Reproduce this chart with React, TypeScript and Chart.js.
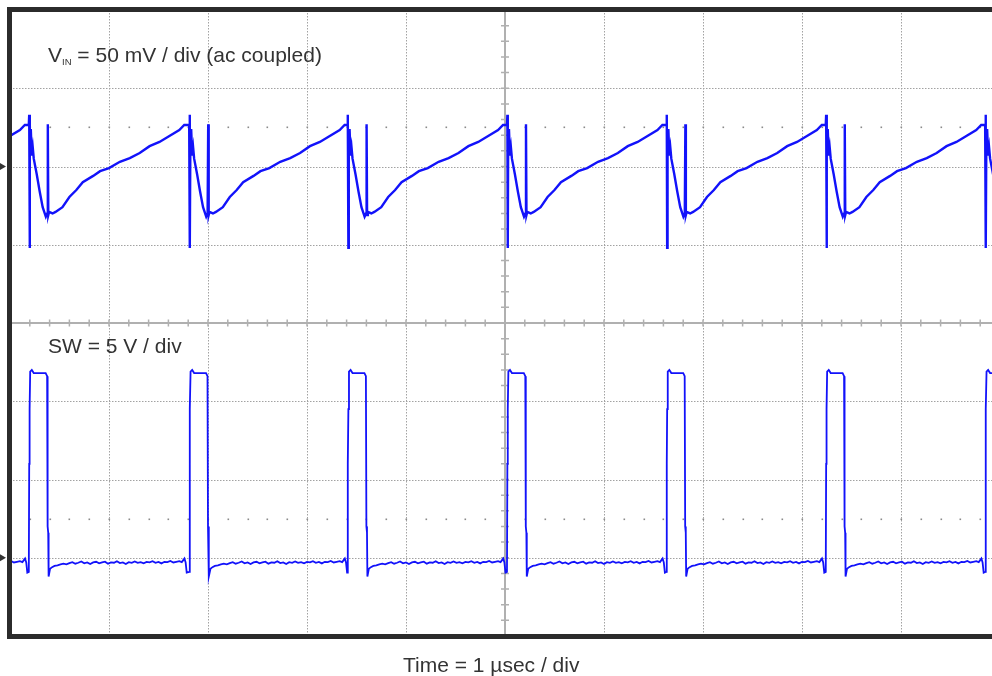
import React, { useEffect, useRef } from "react";
import { Chart, registerables } from "chart.js";

Chart.register(...registerables);

// ---- data (time in µs, VIN ripple in mV, SW in V) ----
const cycleStartsUs = [-1.42, 0.19, 1.81, 3.41, 5.02, 6.63, 8.24, 9.85];

const vinDtUs = [
  0.0, 0.004, 0.008, 0.012, 0.02, 0.03, 0.04, 0.05, 0.08, 0.11, 0.14, 0.172, 0.186,
  0.192, 0.197, 0.205, 0.24, 0.27, 0.34, 0.41, 0.48, 0.545, 0.65, 0.72, 0.81, 0.92,
  1.02, 1.12, 1.22, 1.32, 1.42, 1.52, 1.57, 1.595,
];
const vinMv = [
  26.5, 33, -52, 17, 24, 7, 12, 5, -5, -16, -26, -32, -30,
  27, -31, -29, -30, -29, -26, -19.5, -15, -10, -6, -3, -1, 3,
  5.4, 8.6, 13, 15.7, 19.5, 23.3, 26.5, 26.5,
];

const swDtUs = [
  0.0, 0.004, 0.008, 0.014, 0.03, 0.05, 0.1, 0.17, 0.185, 0.19, 0.196, 0.2,
  0.215, 0.235, 0.26, 0.29, 0.32, 0.35, 0.38, 0.41, 0.44, 0.47, 0.5, 0.53, 0.56,
  0.59, 0.62, 0.65, 0.68, 0.71, 0.74, 0.77, 0.8, 0.83, 0.86, 0.89, 0.92, 0.95,
  0.98, 1.01, 1.04, 1.07, 1.1, 1.13, 1.16, 1.19, 1.22, 1.25, 1.28, 1.31, 1.34,
  1.37, 1.4, 1.43, 1.46, 1.49, 1.52, 1.545, 1.56, 1.572, 1.584, 1.595,
];
const swV = [
  -0.9, 6.0, 9.5, 11.9, 12.0, 11.8, 11.8, 11.8, 11.6, 2.0, 1.6, -1.2,
  -0.7, -0.6, -0.52, -0.48, -0.42, -0.38, -0.42, -0.34, -0.28, -0.38, -0.32, -0.24, -0.36,
  -0.3, -0.4, -0.3, -0.26, -0.36, -0.3, -0.25, -0.38, -0.3, -0.32, -0.22, -0.34, -0.3,
  -0.4, -0.28, -0.32, -0.24, -0.33, -0.28, -0.36, -0.27, -0.3, -0.22, -0.32, -0.27, -0.36,
  -0.26, -0.28, -0.2, -0.3, -0.26, -0.22, -0.28, -0.15, -0.05, -0.3, -0.95,
];

const vinGroundDiv = 2;
const vinMvPerDiv = 50;
const swGroundDiv = -3;
const swVPerDiv = 5;

const xDivsUs = [0, 1, 2, 3, 4, 5, 6, 7, 8, 9, 10];
const yDivs = [-4, -3, -2, -1, 0, 1, 2, 3, 4];
const dotRowsDiv = [2.5, -2.5];

const vinLabel = "50 mV / div (ac coupled)";
const swLabel = "SW = 5 V / div";
const timeLabel = "Time = 1 µsec / div";

const TRACE = "rgb(18,18,250)";
const FONT = '"Liberation Sans", Arial, Helvetica, sans-serif';

function buildTrace(dts: number[], vals: number[], ground: number, perDiv: number) {
  const pts: { x: number; y: number }[] = [];
  for (const s of cycleStartsUs) {
    for (let i = 0; i < dts.length; i++) {
      pts.push({ x: s + dts[i], y: ground + vals[i] / perDiv });
    }
  }
  return pts;
}

const graticule = {
  id: "graticule",
  beforeDatasetsDraw(chart: any) {
    const { ctx, chartArea: a, scales } = chart;
    const xs = scales.x;
    const ys = scales.y;
    ctx.save();
    // dotted grid
    ctx.strokeStyle = "#a2a2a2";
    ctx.lineWidth = 1;
    ctx.setLineDash([1.5, 1.5]);
    for (const v of xDivsUs) {
      if (v === 5) continue;
      const px = Math.round(xs.getPixelForValue(v)) + 0.5;
      ctx.beginPath();
      ctx.moveTo(px, a.top);
      ctx.lineTo(px, a.bottom);
      ctx.stroke();
    }
    for (const v of yDivs) {
      if (v === 0) continue;
      const py = Math.round(ys.getPixelForValue(v)) + 0.5;
      ctx.beginPath();
      ctx.moveTo(a.left, py);
      ctx.lineTo(a.right, py);
      ctx.stroke();
    }
    ctx.setLineDash([]);
    // dot rows
    ctx.fillStyle = "#8a8a8a";
    for (const r of dotRowsDiv) {
      const py = ys.getPixelForValue(r);
      for (let k = 0; k <= 50; k++) {
        const px = xs.getPixelForValue(k * 0.2);
        ctx.fillRect(Math.round(px) - 0.5, Math.round(py) - 0.5, 1.6, 1.6);
      }
    }
    // center cross with ticks
    ctx.strokeStyle = "#b0b0b0";
    ctx.lineWidth = 2;
    const cx = xs.getPixelForValue(5);
    const cy = ys.getPixelForValue(0);
    ctx.beginPath();
    ctx.moveTo(a.left, cy);
    ctx.lineTo(a.right, cy);
    ctx.moveTo(cx, a.top);
    ctx.lineTo(cx, a.bottom);
    ctx.stroke();
    ctx.lineWidth = 1.5;
    ctx.beginPath();
    for (let k = 0; k <= 50; k++) {
      const px = xs.getPixelForValue(k * 0.2);
      ctx.moveTo(px, cy - 3.5);
      ctx.lineTo(px, cy + 3.5);
    }
    for (let k = 0; k <= 40; k++) {
      const py = ys.getPixelForValue(-4 + k * 0.2);
      ctx.moveTo(cx - 4, py);
      ctx.lineTo(cx + 4, py);
    }
    ctx.stroke();
    ctx.restore();
  },
  afterDatasetsDraw(chart: any) {
    const { ctx, chartArea: a, scales } = chart;
    const ys = scales.y;
    ctx.save();
    ctx.strokeStyle = "#2b2b2b";
    ctx.lineWidth = 5;
    ctx.strokeRect(a.left - 0.5, a.top - 0.5, a.right - a.left, a.bottom - a.top + 1);
    // ground markers
    ctx.fillStyle = "#333";
    for (const g of [vinGroundDiv, swGroundDiv]) {
      const py = ys.getPixelForValue(g);
      ctx.beginPath();
      ctx.moveTo(0, py - 3.5);
      ctx.lineTo(6, py);
      ctx.lineTo(0, py + 3.5);
      ctx.closePath();
      ctx.fill();
    }
    ctx.restore();
  },
};

export default function App() {
  const ref = useRef<HTMLCanvasElement | null>(null);
  useEffect(() => {
    if (!ref.current) return;
    const chart = new Chart(ref.current, {
      type: "line",
      data: {
        datasets: [
          {
            label: "VIN",
            data: buildTrace(vinDtUs, vinMv, vinGroundDiv, vinMvPerDiv),
            borderColor: TRACE,
            borderWidth: 2.4,
            pointRadius: 0,
            tension: 0,
          },
          {
            label: "SW",
            data: buildTrace(swDtUs, swV, swGroundDiv, swVPerDiv),
            borderColor: TRACE,
            borderWidth: 1.8,
            pointRadius: 0,
            tension: 0,
          },
        ],
      },
      options: {
        animation: false,
        responsive: false,
        maintainAspectRatio: false,
        layout: { padding: { left: 10, right: 10, top: 10, bottom: 40 } },
        plugins: { legend: { display: false }, tooltip: { enabled: false }, title: { display: false } },
        scales: {
          x: { type: "linear", min: 0, max: 10, display: false },
          y: { type: "linear", min: -4, max: 4, display: false },
        },
        events: [],
      },
      plugins: [graticule],
    });
    return () => chart.destroy();
  }, []);

  const textStyle: React.CSSProperties = {
    position: "absolute",
    fontFamily: FONT,
    fontSize: 21,
    lineHeight: "21px",
    color: "#333",
    whiteSpace: "nowrap",
  };

  return (
    <div
      style={{
        position: "absolute",
        left: 0,
        top: 0,
        width: 992,
        height: 676,
        overflow: "hidden",
        background: "#fff",
      }}
    >
      <canvas ref={ref} width={1010} height={676} style={{ position: "absolute", left: 0, top: 0, width: 1010, height: 676 }} />
      <div style={{ ...textStyle, left: 48, top: 44 }}>
        V
        <span style={{ fontSize: 9.5, position: "relative", top: 3 }}>IN</span>
        {" = " + vinLabel}
      </div>
      <div style={{ ...textStyle, left: 48, top: 335 }}>{swLabel}</div>
      <div style={{ ...textStyle, left: 403, top: 654 }}>{timeLabel}</div>
    </div>
  );
}
